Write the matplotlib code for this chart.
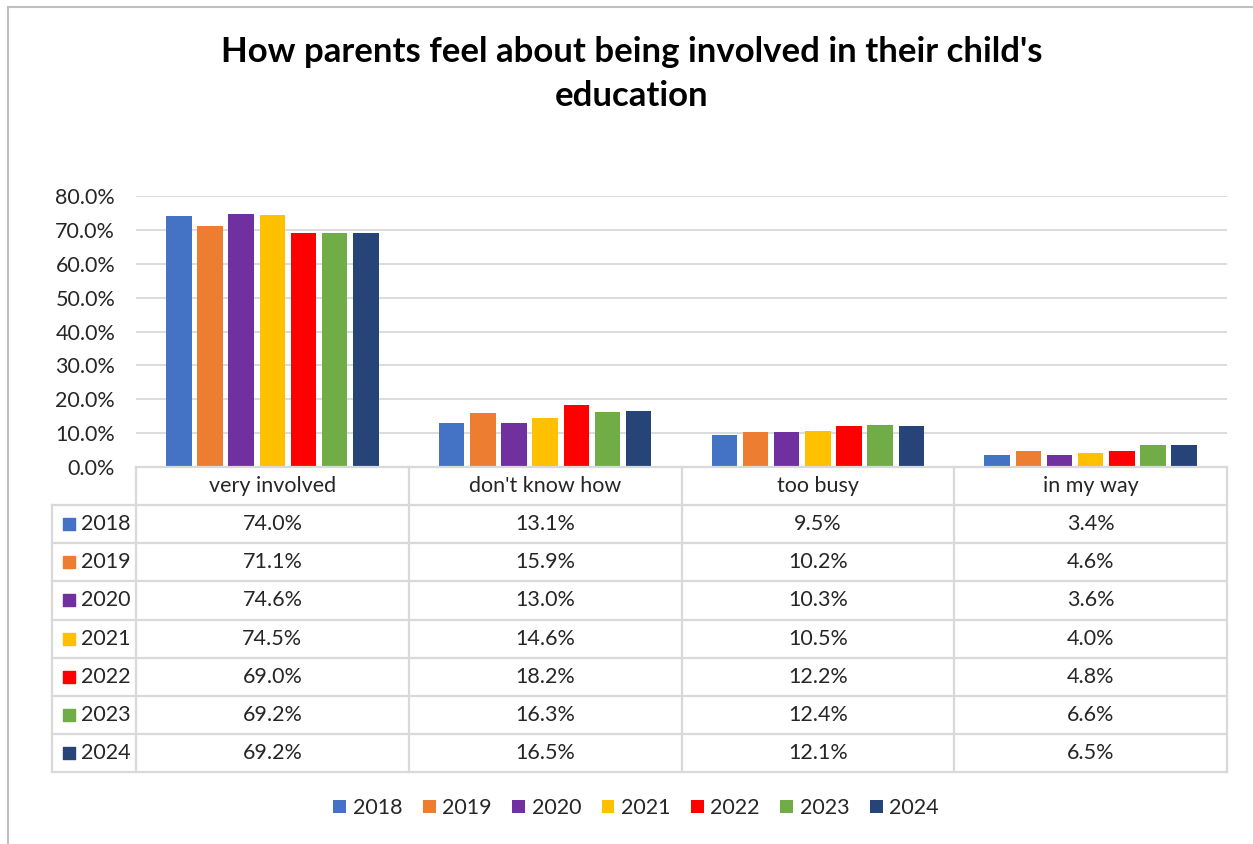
import numpy as np
import matplotlib.pyplot as plt
from matplotlib.patches import Patch
from matplotlib.lines import Line2D
from matplotlib.ticker import PercentFormatter

plt.rcParams['font.family'] = ['Lato', 'DejaVu Sans']

# data
categories = ["very involved", "don't know how", "too busy", "in my way"]
years = ["2018", "2019", "2020", "2021", "2022", "2023", "2024"]
v2018 = [74.0, 13.1, 9.5, 3.4]
v2019 = [71.1, 15.9, 10.2, 4.6]
v2020 = [74.6, 13.0, 10.3, 3.6]
v2021 = [74.5, 14.6, 10.5, 4.0]
v2022 = [69.0, 18.2, 12.2, 4.8]
v2023 = [69.2, 16.3, 12.4, 6.6]
v2024 = [69.2, 16.5, 12.1, 6.5]
series = [v2018, v2019, v2020, v2021, v2022, v2023, v2024]
colors = ["#4472C4", "#ED7D31", "#7030A0", "#FFC000", "#FF0000", "#70AD47", "#264478"]

W, H = 1253, 844
fs = 15.5
tc = '#262626'
fig = plt.figure(figsize=(W / 100, H / 100), dpi=100)

# bar axes
x0, x1 = 136, 1227
y_zero, y_top = 467, 196
ax = fig.add_axes([x0 / W, 1 - y_zero / H, (x1 - x0) / W, (y_zero - y_top) / H])
x = np.arange(len(categories))
step = 0.8 / len(years)
for i, (vals, c) in enumerate(zip(series, colors)):
    ax.bar(x - 0.4 + step * (i + 0.5), vals, width=step * 0.82, color=c, zorder=3)
ax.set_xlim(-0.5, len(categories) - 0.5)
ax.set_ylim(0, 80)
ax.set_yticks(np.arange(0, 81, 10))
ax.yaxis.set_major_formatter(PercentFormatter(decimals=1))
ax.grid(axis='y', color='#D9D9D9', linewidth=1.3, zorder=0)
ax.set_xticks([])
ax.tick_params(axis='y', length=0, labelsize=fs, pad=15, labelcolor=tc)
for s in ax.spines.values():
    s.set_visible(False)

# data table below the bars
cw = (x1 - x0) / len(categories)
lab_w = (136 - 52) / cw
tax = fig.add_axes([52 / W, 1 - 772 / H, (x1 - 52) / W, (772 - y_zero) / H])
tax.set_xlim(-0.5 - lab_w, len(categories) - 0.5)
tax.set_ylim(len(years) + 1, 0)
tax.axis('off')
lc = '#D9D9D9'
lw = 1.6
tax.plot([-0.5, len(categories) - 0.5], [0, 0], color=lc, lw=lw, clip_on=False)
for r in range(1, len(years) + 2):
    tax.plot([-0.5 - lab_w, len(categories) - 0.5], [r, r], color=lc, lw=lw, clip_on=False)
for j in range(len(categories) + 1):
    tax.plot([j - 0.5, j - 0.5], [0, len(years) + 1], color=lc, lw=lw, clip_on=False)
tax.plot([-0.5 - lab_w] * 2, [1, len(years) + 1], color=lc, lw=lw, clip_on=False)

for j, cat in enumerate(categories):
    tax.text(j, 0.5, cat, ha='center', va='center', fontsize=fs, color=tc)
for r, (yr, vals, c) in enumerate(zip(years, series, colors)):
    tax.scatter([-0.5 - lab_w + 0.062], [r + 1.5], marker='s', s=85, color=c, clip_on=False)
    tax.text(-0.5 - lab_w + 0.105, r + 1.5, yr, ha='left', va='center', fontsize=fs, color=tc)
    for j, v in enumerate(vals):
        tax.text(j, r + 1.5, f"{v:.1f}%", ha='center', va='center', fontsize=fs, color=tc)

# legend
handles = [Patch(facecolor=c, label=y) for c, y in zip(colors, years)]
fig.legend(handles=handles, loc='center', bbox_to_anchor=(636 / W, 1 - 808 / H), ncol=7,
           frameon=False, fontsize=fs, handlelength=0.6, handleheight=0.6,
           handletextpad=0.3, columnspacing=0.95, labelcolor=tc)

# title
fig.text(632 / W, 1 - 52 / H, "How parents feel about being involved in their child's",
         ha='center', va='center', fontsize=25, fontweight='bold')
fig.text(632 / W, 1 - 96 / H, "education", ha='center', va='center', fontsize=25, fontweight='bold')

# chart border (top and left edges visible)
fig.add_artist(Line2D([7.5 / W, 1], [1 - 6.5 / H, 1 - 6.5 / H], color='#BFBFBF', lw=1.5,
                      transform=fig.transFigure))
fig.add_artist(Line2D([7.5 / W, 7.5 / W], [0, 1 - 6.5 / H], color='#BFBFBF', lw=1.5,
                      transform=fig.transFigure))

fig.savefig("out.png", dpi=100, facecolor='white')
